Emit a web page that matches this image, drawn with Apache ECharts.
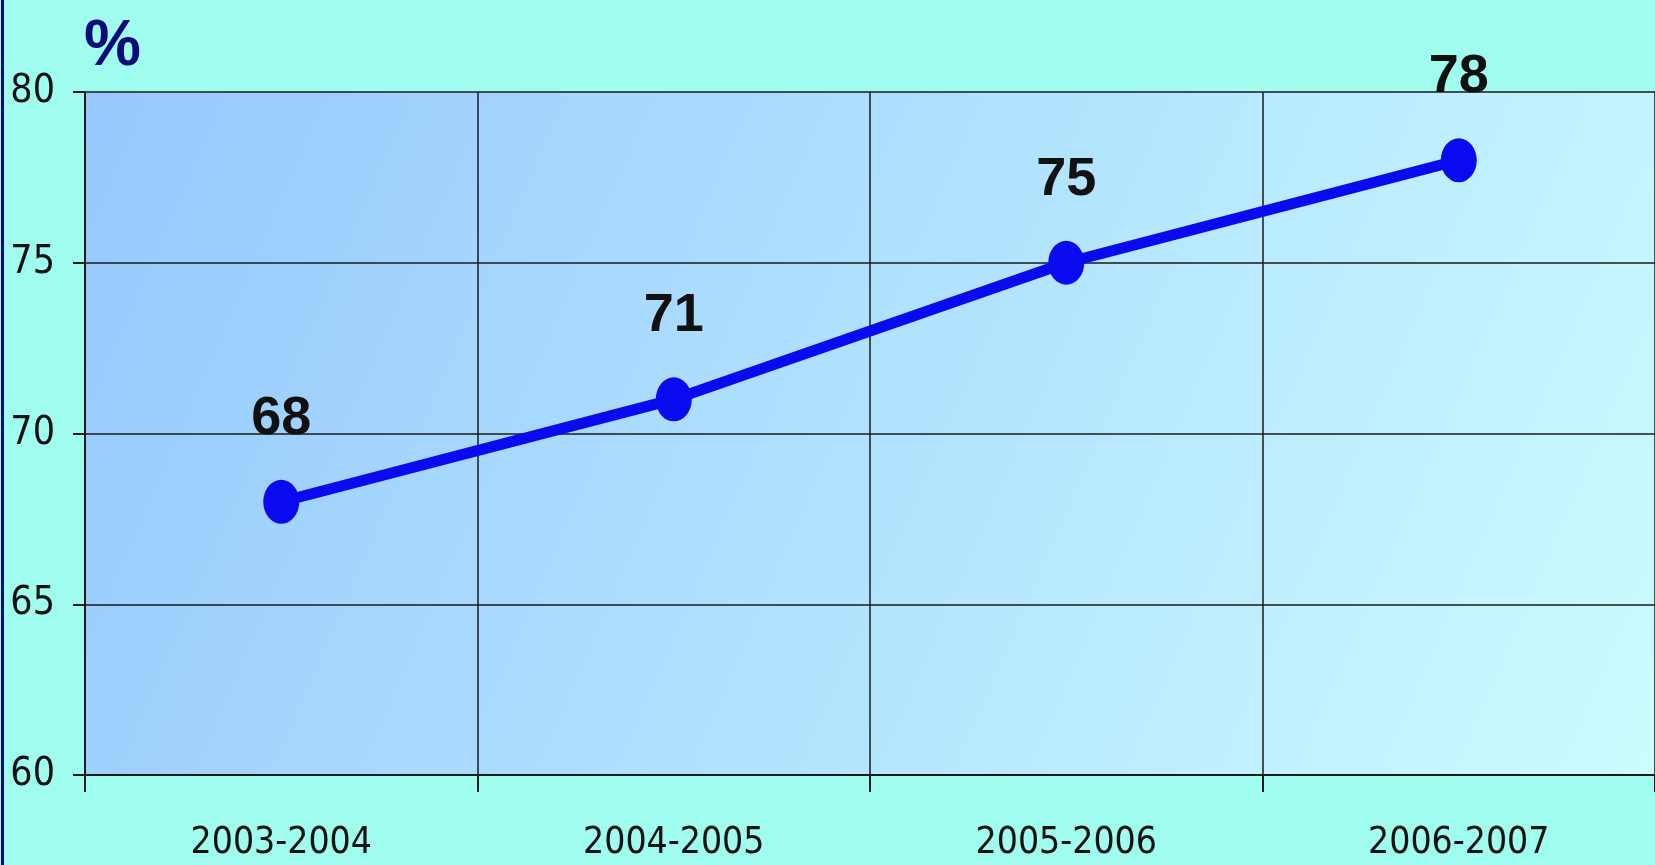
<!DOCTYPE html>
<html>
<head>
<meta charset="utf-8">
<script src="https://cdn.jsdelivr.net/npm/echarts@6/dist/echarts.min.js"></script>
<style>
html,body{margin:0;padding:0;background:#9ffcee;}
#chart{width:1655px;height:865px;}
</style>
</head>
<body>
<div id="chart"></div>
<script>
const categories = ['2003-2004', '2004-2005', '2005-2006', '2006-2007'];
const values = [68, 71, 75, 78];
const yTicks = [60, 65, 70, 75, 80];

const chart = echarts.init(document.getElementById('chart'));
const font = "'DejaVu Sans Condensed', 'DejaVu Sans', sans-serif";
chart.setOption({
  backgroundColor: '#9ffcee',
  animation: false,
  graphic: [{
    type: 'rect', left: 1, top: 0, shape: {width: 3, height: 865},
    style: {fill: '#0b0b7a'}
  }],
  grid: {
    left: 85, top: 92, right: -8, bottom: 90,
    show: true, borderWidth: 0,
    backgroundColor: {
      type: 'linear', x: 0, y: 0, x2: 1, y2: 1,
      colorStops: [{offset: 0, color: '#96c8fd'}, {offset: 1, color: '#ccfcff'}]
    }
  },
  xAxis: {
    type: 'category',
    data: categories,
    boundaryGap: true,
    axisLine: {show: true, lineStyle: {color: '#1a1a1a', width: 2}},
    axisTick: {show: true, length: 17, lineStyle: {color: '#1a1a1a', width: 2}},
    axisLabel: {fontFamily: font, fontSize: 37, color: '#111', margin: 50},
    splitLine: {show: true, lineStyle: {color: '#1a1a1a', width: 1.5}}
  },
  yAxis: {
    type: 'value',
    min: yTicks[0], max: yTicks[yTicks.length - 1], interval: 5,
    name: '%',
    nameLocation: 'end',
    nameGap: 13,
    nameTextStyle: {align: 'left', fontFamily: 'Liberation Sans', fontWeight: 'bold', fontSize: 64, color: '#0b0b7a', padding: [0, 0, 0, -1]},
    axisLine: {show: true, lineStyle: {color: '#1a1a1a', width: 2}},
    axisTick: {show: true, length: 12, lineStyle: {color: '#1a1a1a', width: 2}},
    axisLabel: {fontFamily: font, fontSize: 39, color: '#111', margin: 30},
    splitLine: {show: true, lineStyle: {color: '#1a1a1a', width: 1.5}}
  },
  series: [{
    type: 'line',
    data: values,
    symbol: 'circle',
    symbolSize: [36, 44],
    itemStyle: {color: '#0a0aee'},
    lineStyle: {color: '#0a0aee', width: 11},
    label: {
      show: true, position: 'top', distance: 34,
      fontFamily: 'Liberation Sans', fontWeight: 'bold', fontSize: 54, color: '#111'
    }
  }]
});
</script>
</body>
</html>
